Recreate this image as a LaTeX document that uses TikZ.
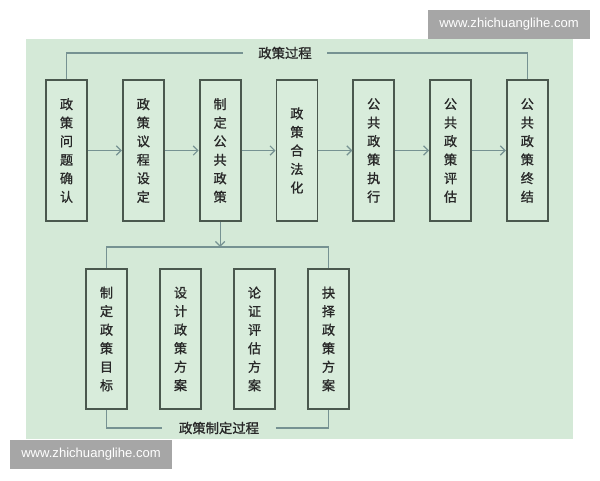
\documentclass[tikz,border=0pt]{standalone}
\usepackage{fontspec}
\newfontfamily\cjk[FakeBold=1.2]{Noto Sans CJK SC}
\setsansfont{Liberation Sans}
\usetikzlibrary{positioning,arrows.meta}
\definecolor{bg}{RGB}{212,233,215}
\definecolor{boxfill}{RGB}{216,236,219}
\definecolor{boxline}{RGB}{74,88,78}
\definecolor{linkc}{RGB}{118,146,146}
\definecolor{txt}{RGB}{40,40,40}
\definecolor{wmgray}{RGB}{166,166,166}
\begin{document}
\begin{tikzpicture}[x=0.75pt,y=-0.75pt,node distance=25.5pt,
  stage/.style={draw=boxline,line width=1.35pt,fill=boxfill,minimum width=30.75pt,minimum height=105.75pt,inner sep=0pt,align=center,text=txt,font=\cjk\fontsize{9.8}{13.9}\selectfont},
  link/.style={draw=linkc,line width=0.9pt},
  tag/.style={fill=bg,inner xsep=11.5pt,inner ysep=1pt,text=txt,font=\cjk\fontsize{10}{12}\selectfont},
  wmark/.style={fill=wmgray,text=white,minimum width=121.5pt,minimum height=21.75pt,inner sep=0pt,font=\sffamily\fontsize{9.8}{11}\selectfont}]
\useasboundingbox (0,0) rectangle (600,480);
\fill[white] (0,0) rectangle (600,480);
\fill[bg] (26,39) rectangle (573,439);
% policy process
\node[stage] (p1) at (66.5,150.5) {政\\策\\问\\题\\确\\认};
\node[stage,right=of p1] (p2) {政\\策\\议\\程\\设\\定};
\node[stage,right=of p2] (p3) {制\\定\\公\\共\\政\\策};
\node[stage,right=of p3] (p4) {政\\策\\合\\法\\化};
\node[stage,right=of p4] (p5) {公\\共\\政\\策\\执\\行};
\node[stage,right=of p5] (p6) {公\\共\\政\\策\\评\\估};
\node[stage,right=of p6] (p7) {公\\共\\政\\策\\终\\结};
\foreach \a/\b in {p1/p2,p2/p3,p3/p4,p4/p5,p5/p6,p6/p7}
  \draw[link,-{Straight Barb[length=3.5pt,width=7pt]}] (\a) -- (\b);
\node[tag] (top) at (285,53) {政策过程};
\draw[link] (p1.north) |- (top.west);
\draw[link] (top.east) -| (p7.north);
% policy making
\begin{scope}[node distance=23.4pt]
\node[stage,minimum height=105pt] (q1) at (106.5,339) {制\\定\\政\\策\\目\\标};
\node[stage,minimum height=105pt,right=of q1] (q2) {设\\计\\政\\策\\方\\案};
\node[stage,minimum height=105pt,right=of q2] (q3) {论\\证\\评\\估\\方\\案};
\node[stage,minimum height=105pt,right=of q3] (q4) {抉\\择\\政\\策\\方\\案};
\end{scope}
\coordinate (lvl) at (0,247);
\coordinate (split) at (p3.south |- lvl);
\draw[link,-{Straight Barb[length=3.5pt,width=7pt]}] (p3.south) -- (split);
\draw[link] (q1.north) |- (split) -| (q4.north);
\node[tag,inner xsep=12.5pt] (bot) at (219,428) {政策制定过程};
\draw[link] (q1.south) |- (bot.west);
\draw[link] (bot.east) -| (q4.south);
% watermarks
\node[wmark] (w1) at (509,24.5) {www.zhichuanglihe.com};
\node[wmark] (w2) at (91,454.5) {www.zhichuanglihe.com};
\end{tikzpicture}
\end{document}
